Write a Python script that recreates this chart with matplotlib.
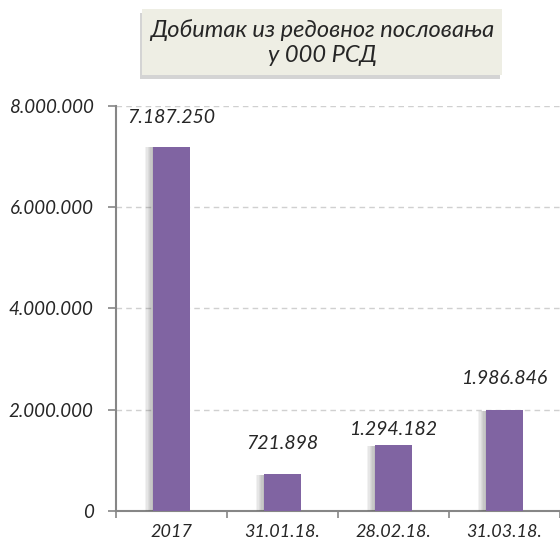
import matplotlib
matplotlib.use("Agg")
import matplotlib.pyplot as plt
import matplotlib.patheffects as pe
from matplotlib.patches import Rectangle
from matplotlib.ticker import FuncFormatter
import numpy as np

categories = ["2017", "31.01.18.", "28.02.18.", "31.03.18."]
values = [7187250, 721898, 1294182, 1986846]
title_lines = ["Добитак из редовног пословања", "у 000 РСД"]

plt.rcParams['font.family'] = ['Lato', 'DejaVu Sans']

BAR = '#8064A2'
TXT = '#262626'


def dotted(v, pos=None):
    return "{:,.0f}".format(v).replace(",", ".")


fig = plt.figure(figsize=(5.6, 5.47), dpi=100)
ax = fig.add_axes([0.207, 0.0658, 0.793, 0.7413])

x = np.arange(len(categories))
bars = ax.bar(x, values, width=0.33, color=BAR, zorder=3)
# soft shadow to the left, like the Excel outer shadow
soft = [pe.SimplePatchShadow(offset=(-k, -0.5), shadow_rgbFace='#505050', alpha=0.07)
        for k in range(1, 7)]
for b in bars:
    b.set_path_effects(soft + [pe.Normal()])

ax.set_ylim(0, 8000000)
ax.set_xlim(-0.5, 3.47)
ax.set_yticks(np.arange(0, 8000001, 2000000))
ax.yaxis.set_major_formatter(FuncFormatter(dotted))
ax.set_xticks(x)
ax.set_xticklabels(categories)
ax.set_xticks(np.arange(-0.5, 4, 1), minor=True)
ax.tick_params(axis='x', which='major', length=0, pad=9, labelsize=13, labelcolor=TXT)
ax.tick_params(axis='x', which='minor', length=5, color='#868686', width=1.2)
ax.tick_params(axis='y', length=6, color='#868686', width=1.2, pad=10, labelsize=13.5, labelcolor=TXT)
for lab in ax.get_xticklabels() + ax.get_yticklabels():
    lab.set_fontstyle('italic')

ax.grid(axis='y', color='#D0D0D0', linestyle=(0, (4, 3)), linewidth=1, zorder=0)
for s in ['top', 'right']:
    ax.spines[s].set_visible(False)
for s in ['left', 'bottom']:
    ax.spines[s].set_color('#868686')
    ax.spines[s].set_linewidth(1.5)

offsets = [15, 16.5, 5.5, 16.5]
for xi, v, off in zip(x, values, offsets):
    ax.annotate(dotted(v), xy=(xi, v), xytext=(0, off), textcoords='offset points',
                ha='center', va='bottom', fontsize=14, style='italic', color=TXT)

# title box
shadow = Rectangle((0.2536 - 0.004, 0.863 - 0.007), 0.643, 0.1207, transform=fig.transFigure,
                   facecolor='#a0a0a0', edgecolor='none', alpha=0.45)
box = Rectangle((0.2536, 0.863), 0.643, 0.1207, transform=fig.transFigure,
                facecolor='#EEEEE4', edgecolor='none')
fig.patches.extend([shadow, box])
fig.text(0.575, 0.945, title_lines[0], ha='center', va='center', fontsize=17,
         style='italic', color=TXT)
fig.text(0.575, 0.899, title_lines[1], ha='center', va='center', fontsize=17,
         style='italic', color=TXT)

fig.savefig("out.png", dpi=100)
